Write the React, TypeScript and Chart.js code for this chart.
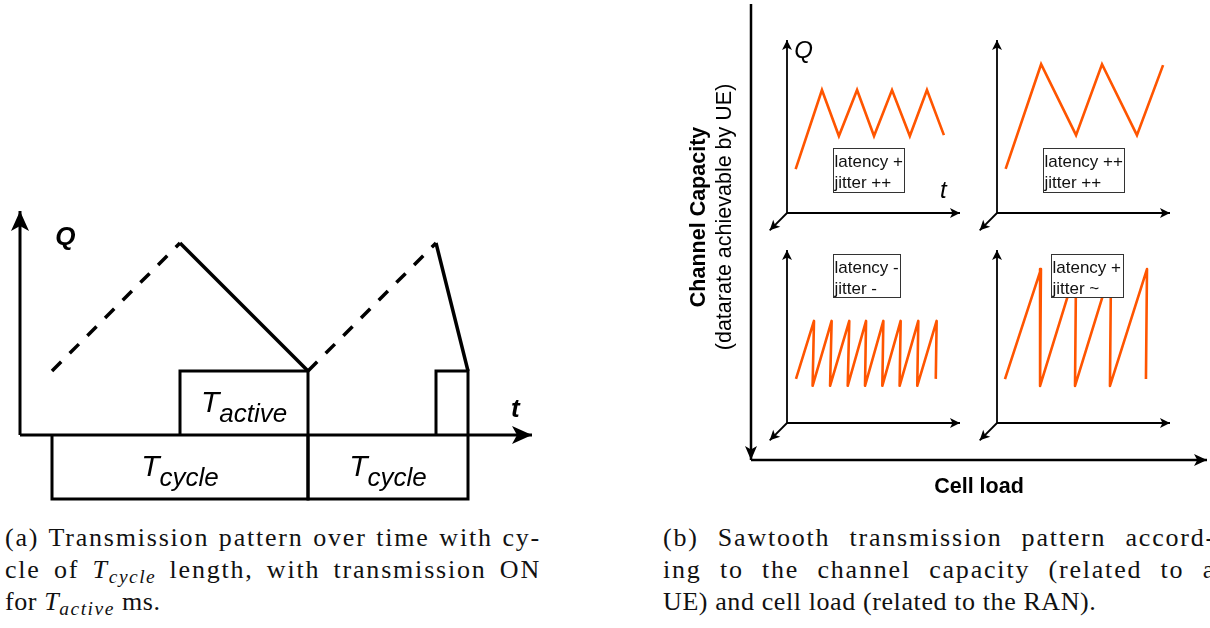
import React, { useEffect, useRef } from "react";
import { Chart, registerables } from "chart.js";

Chart.register(...registerables);

// ---------------- Panel (a): queue Q over time t (1 unit = one slot) ----------------
const A_T_RANGE = [0, 16];
const A_Q_RANGE = [-2, 7];
const A_XAXIS_T = [0, 16];
const A_XAXIS_Q = [0, 0];
const A_YAXIS_T = [0, 0];
const A_YAXIS_Q = [0, 7];
const A_FILL1_T = [1, 5];
const A_FILL1_Q = [2, 6];
const A_DRAIN1_T = [5, 9];
const A_DRAIN1_Q = [6, 2];
const A_FILL2_T = [9, 13];
const A_FILL2_Q = [2, 6];
const A_DRAIN2_T = [13, 14];
const A_DRAIN2_Q = [6, 2];
const A_ACTIVE1_T = [5, 5, 9, 9];
const A_ACTIVE2_T = [13, 13, 14, 14];
const A_ACTIVE_Q = [0, 2, 2, 0];
const A_CYCLE1_T = [1, 1, 9, 9];
const A_CYCLE2_T = [9, 9, 14, 14];
const A_CYCLE_Q = [0, -2, -2, 0];
const A_AXIS_TITLES = ["Q", "t"];
const A_BOX_SUBS = ["active", "cycle", "cycle"];

// ---------------- Panel (b): frame ----------------
const FRAME_X_RANGE = [0, 100];
const FRAME_Y_RANGE = [0, 100];
const FRAME_CAP_X = [0, 0];
const FRAME_CAP_Y = [100, 0];
const FRAME_LOAD_X = [0, 100];
const FRAME_LOAD_Y = [0, 0];
const FRAME_X_TITLE = "Cell load";
const FRAME_Y_TITLE = ["Channel Capacity", "(datarate achievable by UE)"];

// ---------------- Panel (b): four sawtooth sub-plots ----------------
const SUB_RANGE = [0, 10];
const SUB_XAXIS_T = [0, 10];
const SUB_XAXIS_Q = [0, 0];
const SUB_YAXIS_T = [0, 0];
const SUB_YAXIS_Q = [0, 10];
const SUB_ZAXIS_T = [0, -1];
const SUB_ZAXIS_Q = [0, -1];
const SUB_AXIS_TITLES = ["Q", "t"];

const TL_T = [0.5, 2.02, 3.0, 4.05, 5.03, 6.07, 7.1, 8.09, 9.07];
const TL_Q = [2.54, 7.11, 4.45, 7.11, 4.45, 7.11, 4.45, 7.11, 4.5];
const TL_NOTE = ["latency +", "jitter ++"];

const TR_T = [0.5, 2.55, 4.57, 6.07, 8.09, 9.6];
const TR_Q = [2.55, 8.6, 4.5, 8.6, 4.5, 8.55];
const TR_NOTE = ["latency ++", "jitter ++"];

const BL_T = [0.52, 1.56, 1.48, 2.58, 2.49, 3.6, 3.51, 4.57, 4.51, 5.57, 5.51, 6.57, 6.51, 7.59, 7.53, 8.65, 8.6];
const BL_Q = [2.55, 5.9, 2.15, 5.9, 2.15, 5.9, 2.15, 5.9, 2.15, 5.9, 2.15, 5.9, 2.15, 5.9, 2.15, 5.9, 2.55];
const BL_NOTE = ["latency -", "jitter -"];

const BR_T = [0.46, 2.54, 2.49, 4.57, 4.51, 6.59, 6.53, 8.67, 8.61];
const BR_Q = [2.54, 8.9, 2.14, 8.9, 2.14, 8.9, 2.14, 8.9, 2.54];
const BR_NOTE = ["latency +", "jitter ~"];

const ORANGE = "#ff5500";
const BLACK = "#000000";
const SANS = '"Liberation Sans", Arial, sans-serif';

type Pt = { x: number; y: number };
const pts = (xs: number[], ys: number[]): Pt[] => xs.map((x, i) => ({ x, y: ys[i] }));

const arrowPlugin = {
  id: "arrowHeads",
  afterDatasetsDraw(chart: any) {
    const ctx = chart.ctx as CanvasRenderingContext2D;
    chart.data.datasets.forEach((ds: any, i: number) => {
      const head = ds.arrowHead;
      if (!head) return;
      const meta = chart.getDatasetMeta(i);
      const n = meta.data.length;
      const a = meta.data[n - 2];
      const b = meta.data[n - 1];
      const dx = b.x - a.x;
      const dy = b.y - a.y;
      const d = Math.hypot(dx, dy) || 1;
      const ux = dx / d;
      const uy = dy / d;
      const nx = -uy;
      const ny = ux;
      const L = head.len;
      const H = head.half;
      ctx.save();
      ctx.fillStyle = ds.borderColor;
      ctx.beginPath();
      ctx.moveTo(b.x, b.y);
      ctx.lineTo(b.x - ux * L + nx * H, b.y - uy * L + ny * H);
      ctx.lineTo(b.x - ux * L * 0.75, b.y - uy * L * 0.75);
      ctx.lineTo(b.x - ux * L - nx * H, b.y - uy * L - ny * H);
      ctx.closePath();
      ctx.fill();
      ctx.restore();
    });
  },
};

interface Spec {
  left: number;
  top: number;
  width: number;
  height: number;
  padding: { left: number; right: number; top: number; bottom: number };
  x: number[];
  y: number[];
  datasets: any[];
  draw?: (ctx: CanvasRenderingContext2D, px: (v: number) => number, py: (v: number) => number) => void;
}

function ChartCanvas({ spec }: { spec: Spec }) {
  const ref = useRef<HTMLCanvasElement>(null);
  useEffect(() => {
    if (!ref.current) return;
    const chart = new Chart(ref.current, {
      type: "scatter",
      data: {
        datasets: spec.datasets.map((d) => ({
          showLine: true,
          pointRadius: 0,
          pointHoverRadius: 0,
          pointHitRadius: 0,
          fill: false,
          clip: false,
          tension: 0,
          borderCapStyle: "butt",
          borderJoinStyle: "miter",
          ...d,
        })),
      },
      options: {
        animation: false,
        responsive: false,
        maintainAspectRatio: false,
        devicePixelRatio: 1,
        events: [],
        layout: { padding: spec.padding },
        scales: {
          x: { type: "linear", min: spec.x[0], max: spec.x[1], display: false },
          y: { type: "linear", min: spec.y[0], max: spec.y[1], display: false },
        },
        plugins: { legend: { display: false }, tooltip: { enabled: false } },
      } as any,
      plugins: [
        arrowPlugin,
        {
          id: "overlay",
          afterDraw(c: any) {
            if (!spec.draw) return;
            const ctx = c.ctx as CanvasRenderingContext2D;
            ctx.save();
            spec.draw(
              ctx,
              (v) => c.scales.x.getPixelForValue(v),
              (v) => c.scales.y.getPixelForValue(v)
            );
            ctx.restore();
          },
        },
      ] as any,
    });
    return () => chart.destroy();
  }, []);
  return (
    <canvas
      ref={ref}
      width={spec.width}
      height={spec.height}
      style={{ position: "absolute", left: spec.left, top: spec.top, width: spec.width, height: spec.height, display: "block" }}
    />
  );
}

function drawTSub(ctx: CanvasRenderingContext2D, cx: number, cy: number, sub: string) {
  ctx.fillStyle = BLACK;
  ctx.textBaseline = "alphabetic";
  ctx.textAlign = "left";
  ctx.font = `italic 30px ${SANS}`;
  const wT = ctx.measureText("T").width;
  ctx.font = `italic 26px ${SANS}`;
  const wS = ctx.measureText(sub).width;
  const x0 = cx - (wT + wS) / 2;
  ctx.font = `italic 30px ${SANS}`;
  ctx.fillText("T", x0, cy + 9);
  ctx.font = `italic 26px ${SANS}`;
  ctx.fillText(sub, x0 + wT, cy + 19);
}

const panelA: Spec = {
  left: 0,
  top: 0,
  width: 560,
  height: 520,
  padding: { left: 20, right: 28, top: 211, bottom: 21 },
  x: A_T_RANGE,
  y: A_Q_RANGE,
  datasets: [
    { data: pts(A_ACTIVE1_T, A_ACTIVE_Q), borderColor: BLACK, borderWidth: 3 },
    { data: pts(A_ACTIVE2_T, A_ACTIVE_Q), borderColor: BLACK, borderWidth: 3 },
    { data: pts(A_CYCLE1_T, A_CYCLE_Q), borderColor: BLACK, borderWidth: 3 },
    { data: pts(A_CYCLE2_T, A_CYCLE_Q), borderColor: BLACK, borderWidth: 3 },
    { data: pts(A_FILL1_T, A_FILL1_Q), borderColor: BLACK, borderWidth: 3.5, borderDash: [13, 12] },
    { data: pts(A_DRAIN1_T, A_DRAIN1_Q), borderColor: BLACK, borderWidth: 3.5 },
    { data: pts(A_FILL2_T, A_FILL2_Q), borderColor: BLACK, borderWidth: 3.5, borderDash: [13, 12] },
    { data: pts(A_DRAIN2_T, A_DRAIN2_Q), borderColor: BLACK, borderWidth: 3.5 },
    { data: pts(A_XAXIS_T, A_XAXIS_Q), borderColor: BLACK, borderWidth: 3, arrowHead: { len: 20, half: 9 } },
    { data: pts(A_YAXIS_T, A_YAXIS_Q), borderColor: BLACK, borderWidth: 3, arrowHead: { len: 20, half: 9 } },
  ],
  draw: (ctx, px, py) => {
    ctx.fillStyle = BLACK;
    ctx.textAlign = "left";
    ctx.textBaseline = "alphabetic";
    ctx.font = `bold italic 26px ${SANS}`;
    ctx.fillText(A_AXIS_TITLES[0], px(1.1), py(5.94));
    ctx.fillText(A_AXIS_TITLES[1], px(15.34), py(0.56));
    drawTSub(ctx, px(7), py(1), A_BOX_SUBS[0]);
    drawTSub(ctx, px(5), py(-1), A_BOX_SUBS[1]);
    drawTSub(ctx, px(11.5), py(-1), A_BOX_SUBS[2]);
  },
};

const frame: Spec = {
  left: 660,
  top: 0,
  width: 550,
  height: 510,
  padding: { left: 91, right: 3, top: 4, bottom: 50 },
  x: FRAME_X_RANGE,
  y: FRAME_Y_RANGE,
  datasets: [
    { data: pts(FRAME_LOAD_X, FRAME_LOAD_Y), borderColor: BLACK, borderWidth: 2.5, arrowHead: { len: 13, half: 6 } },
    { data: pts(FRAME_CAP_X, FRAME_CAP_Y), borderColor: BLACK, borderWidth: 2.5, arrowHead: { len: 14, half: 6 } },
  ],
  draw: (ctx, px, py) => {
    ctx.fillStyle = BLACK;
    ctx.textBaseline = "alphabetic";
    ctx.textAlign = "center";
    ctx.font = `bold 21.5px ${SANS}`;
    ctx.fillText(FRAME_X_TITLE, px(50), py(0) + 33);
    const cy = py(53.3);
    ctx.save();
    ctx.translate(px(0) - 46, cy);
    ctx.rotate(-Math.PI / 2);
    ctx.fillText(FRAME_Y_TITLE[0], 0, 0);
    ctx.restore();
    ctx.save();
    ctx.translate(px(0) - 20, cy);
    ctx.rotate(-Math.PI / 2);
    ctx.font = `21.5px ${SANS}`;
    ctx.fillText(FRAME_Y_TITLE[1], 0, 0);
    ctx.restore();
  },
};

function subPanel(
  ox: number,
  oy: number,
  t: number[],
  q: number[],
  note: string[],
  box: number[],
  join: string,
  titles: boolean
): Spec {
  return {
    left: ox - 27,
    top: oy - 183,
    width: 210,
    height: 210,
    padding: { left: 27, right: 10, top: 10, bottom: 27 },
    x: SUB_RANGE,
    y: SUB_RANGE,
    datasets: [
      { data: pts(t, q), borderColor: ORANGE, borderWidth: 2.6, borderJoinStyle: join },
      { data: pts(SUB_XAXIS_T, SUB_XAXIS_Q), borderColor: BLACK, borderWidth: 1.8, arrowHead: { len: 10, half: 5 } },
      { data: pts(SUB_YAXIS_T, SUB_YAXIS_Q), borderColor: BLACK, borderWidth: 1.8, arrowHead: { len: 10, half: 5 } },
      { data: pts(SUB_ZAXIS_T, SUB_ZAXIS_Q), borderColor: BLACK, borderWidth: 1.8, arrowHead: { len: 10, half: 5 } },
    ],
    draw: (ctx, px, py) => {
      const x0 = Math.round(px(box[0])) + 0.5;
      const x1 = Math.round(px(box[1])) + 0.5;
      const y0 = Math.round(py(box[2])) + 0.5;
      const y1 = Math.round(py(box[3])) + 0.5;
      ctx.fillStyle = "#ffffff";
      ctx.fillRect(x0, y0, x1 - x0, y1 - y0);
      ctx.strokeStyle = "#333333";
      ctx.lineWidth = 1;
      ctx.strokeRect(x0, y0, x1 - x0, y1 - y0);
      ctx.fillStyle = "#111111";
      ctx.textAlign = "left";
      ctx.textBaseline = "alphabetic";
      ctx.font = `17px ${SANS}`;
      ctx.fillText(note[0], x0 + 1, y0 + 18.5);
      ctx.fillText(note[1], x0 + 1, y0 + 39);
      if (titles) {
        ctx.fillStyle = BLACK;
        ctx.font = `italic 24px ${SANS}`;
        ctx.fillText(SUB_AXIS_TITLES[0], px(0.42), py(8.96));
        ctx.fillText(SUB_AXIS_TITLES[1], px(8.84), py(0.87));
      }
    },
  };
}

const panels: Spec[] = [
  panelA,
  frame,
  subPanel(787, 213, TL_T, TL_Q, TL_NOTE, [2.66, 6.76, 3.76, 1.21], "miter", true),
  subPanel(997, 213, TR_T, TR_Q, TR_NOTE, [2.66, 7.34, 3.76, 1.21], "miter", false),
  subPanel(787, 423, BL_T, BL_Q, BL_NOTE, [2.66, 6.53, 9.77, 7.28], "round", false),
  subPanel(997, 423, BR_T, BR_Q, BR_NOTE, [3.12, 7.28, 9.77, 7.28], "round", false),
];

const capBase: React.CSSProperties = {
  position: "absolute",
  fontFamily: '"Liberation Serif", "Times New Roman", serif',
  fontSize: 26,
  lineHeight: "32px",
  color: "#111",
  margin: 0,
};

const subStyle: React.CSSProperties = {
  fontSize: "0.75em",
  verticalAlign: "baseline",
  position: "relative",
  top: "0.28em",
  fontStyle: "italic",
  letterSpacing: "1.5px",
};

function TSub({ s }: { s: string }) {
  return (
    <span>
      <i>T</i>
      <sub style={subStyle}>{s}</sub>
    </span>
  );
}

function Line({ top, left, width, justify, children }: any) {
  return (
    <div
      style={{
        ...capBase,
        top,
        left,
        width,
        letterSpacing: justify ? "1.8px" : "0.6px",
        textAlign: justify ? "justify" : "left",
        textAlignLast: justify ? "justify" : "left",
      } as React.CSSProperties}
    >
      {children}
    </div>
  );
}

export default function App() {
  return (
    <div
      style={{
        position: "absolute",
        left: 0,
        top: 0,
        width: 1210,
        height: 628,
        overflow: "hidden",
        background: "#ffffff",
      }}
    >
      {panels.map((p, i) => (
        <ChartCanvas key={i} spec={p} />
      ))}
      <Line top={522} left={5} width={536} justify>
        (a) Transmission pattern over time with cy-
      </Line>
      <Line top={554} left={5} width={536} justify>
        cle of <TSub s="cycle" /> length, with transmission ON
      </Line>
      <Line top={586} left={5} width={536}>
        for <TSub s="active" /> ms.
      </Line>
      <Line top={522} left={663} width={553} justify>
        (b) Sawtooth transmission pattern accord-
      </Line>
      <Line top={554} left={663} width={553} justify>
        ing to the channel capacity (related to a
      </Line>
      <Line top={586} left={663} width={553}>
        UE) and cell load (related to the RAN).
      </Line>
    </div>
  );
}
